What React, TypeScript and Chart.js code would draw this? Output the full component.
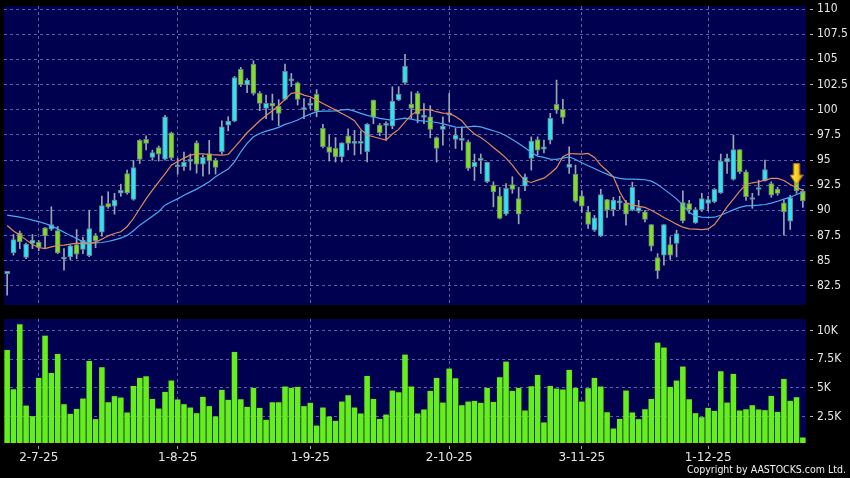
import React, { useEffect, useRef } from "react";
import { Chart, registerables } from "chart.js";
Chart.register(...registerables);

// ---- data ----
const opens = [83.72,85.78,87.77,85.32,86.71,86.84,88.26,88.13,88.0,85.15,85.38,86.6,86.11,85.5,87.5,87.83,90.68,90.42,91.7,93.66,91.08,96.95,97.06,95.26,96.23,95.08,97.71,94.33,94.33,94.86,96.71,94.6,95.65,94.99,95.82,98.47,98.87,104.0,102.45,104.53,101.62,100.13,100.62,100.36,101.02,102.87,102.68,100.0,100.43,101.52,98.14,96.32,96.15,95.32,97.41,96.65,96.65,95.82,100.96,98.47,98.44,98.37,100.96,102.68,100.56,101.62,99.23,99.3,97.24,98.04,99.46,97.04,96.95,96.81,94.33,94.96,92.84,92.51,91.41,89.62,92.57,91.18,92.41,95.16,97.04,96.08,96.98,100.53,100.03,94.26,93.6,91.45,89.85,88.03,87.44,91.08,90.08,90.75,90.75,90.02,89.92,89.85,88.6,85.32,85.55,86.61,86.71,90.78,90.68,88.76,90.08,90.68,90.85,91.74,94.82,93.07,96.05,93.83,91.08,92.07,92.94,92.67,92.11,90.75,88.93,93.5,91.91];
const highs = [83.95,87.6,87.95,86.75,87.6,87.0,88.3,90.35,88.4,86.2,86.55,88.1,87.35,90.02,87.7,91.41,91.85,91.7,92.6,94.0,94.96,97.04,97.4,95.98,96.4,99.45,97.78,95.16,95.8,95.6,96.9,95.5,96.95,95.16,98.9,99.3,103.3,104.2,103.1,104.86,101.8,101.45,101.55,101.0,104.53,103.6,102.75,101.1,101.1,102.0,98.55,97.45,97.24,96.71,98.1,97.95,97.9,98.62,100.96,98.63,98.8,102.28,102.28,105.5,101.78,101.8,100.6,100.4,97.3,99.3,101.62,98.14,98.3,96.98,95.6,95.6,94.8,92.84,92.28,92.67,93.34,92.28,93.6,97.3,97.3,96.98,99.63,102.94,101.02,96.32,94.5,91.95,90.4,89.5,92.1,91.1,91.3,91.4,91.0,92.8,91.0,90.0,88.6,85.7,88.6,87.37,88.03,91.94,91.0,90.28,91.7,91.4,92.18,95.6,95.6,97.48,96.05,94.0,91.7,93.0,95.0,92.84,92.3,91.0,91.5,93.6,92.1];
const lows = [81.57,85.55,86.2,85.2,86.2,86.0,86.2,88.0,85.7,84.06,85.1,85.2,85.7,85.4,86.3,87.44,90.2,89.62,91.4,91.6,91.0,94.66,96.0,94.98,94.9,94.99,94.99,93.6,93.97,94.0,93.7,93.4,93.6,93.6,95.6,97.9,98.8,102.3,101.7,101.45,99.9,99.1,98.97,98.4,100.95,102.3,100.46,99.1,100.1,99.3,96.2,94.9,94.8,94.8,96.0,95.5,95.6,94.8,98.6,97.4,96.98,98.1,100.9,102.5,99.13,98.7,98.6,97.2,94.8,96.48,98.8,96.15,95.98,93.98,92.97,93.66,92.74,90.35,89.15,89.5,91.7,88.66,91.95,94.0,95.5,95.7,96.6,99.63,98.64,93.66,90.8,89.8,88.2,87.9,87.4,89.3,89.45,90.1,88.53,89.95,89.75,88.85,85.98,83.23,84.55,85.12,85.38,88.76,89.7,88.7,89.9,90.0,90.75,91.68,93.66,93.0,93.66,91.0,90.2,91.5,92.9,91.3,91.5,87.54,88.1,91.7,90.3];
const closes = [83.95,87.1,86.87,86.64,87.04,86.31,87.47,88.6,85.78,85.31,86.47,85.65,87.04,88.2,86.97,90.48,90.35,91.01,92.0,91.74,94.26,95.07,96.65,95.73,95.59,99.3,95.2,94.5,94.76,94.99,94.6,95.26,94.92,94.26,98.3,98.87,103.2,102.45,102.94,101.62,100.62,100.62,100.35,99.63,103.8,102.94,101.02,100.06,100.62,99.86,96.32,95.75,95.32,96.71,96.65,96.68,96.68,98.57,99.23,97.71,98.6,100.86,101.55,104.33,100.13,99.56,99.46,98.04,96.15,98.37,99.69,97.48,96.98,94.16,94.76,94.99,94.76,91.84,89.19,92.18,92.08,89.62,93.34,96.88,95.98,96.32,99.13,99.96,99.23,94.6,90.92,90.42,88.6,89.26,91.58,90.02,91.01,90.78,89.62,92.28,90.28,89.09,86.44,83.99,88.6,85.55,87.7,88.96,90.08,90.08,91.18,91.08,92.08,94.89,95.16,96.05,93.83,91.35,91.11,92.1,94.06,91.51,91.68,89.85,91.28,91.94,90.95];
const maFast = [88.5,87.96,87.54,87.07,86.61,86.31,86.21,86.37,86.51,86.54,86.64,86.74,86.7,86.7,86.84,87.14,87.47,87.7,87.87,88.4,89.19,90.19,91.14,92.01,92.84,93.63,94.49,94.86,95.19,95.49,95.62,95.62,95.55,95.52,95.49,95.55,96.25,96.98,97.71,98.3,98.9,99.43,99.9,100.42,101.02,101.62,101.72,101.45,101.29,100.96,100.62,100.29,99.96,99.63,99.3,98.9,98.04,97.48,97.31,97.14,96.98,97.58,98.04,98.8,99.46,99.9,100.03,99.99,99.8,99.66,99.63,99.33,98.9,98.14,97.58,97.24,96.78,96.25,95.75,95.19,94.49,93.67,92.94,92.77,93.0,93.2,93.67,94.23,95.32,95.65,95.62,95.59,95.65,95.26,94.49,93.93,93.33,91.84,90.75,90.55,90.39,90.29,90.02,89.66,89.29,88.96,88.63,88.33,88.16,88.13,88.09,88.16,88.59,89.42,90.35,91.11,91.91,92.57,92.74,92.84,93.0,93.17,93.17,92.97,92.57,92.27,92.01];
const maSlow = [89.52,89.42,89.32,89.19,89.03,88.89,88.69,88.46,88.16,87.83,87.5,87.2,86.87,86.77,86.77,86.81,86.91,87.07,87.24,87.5,87.97,88.53,88.96,89.42,89.89,90.52,90.85,91.14,91.51,91.81,92.11,92.47,92.84,93.33,93.73,94.1,94.82,95.82,96.65,97.31,97.64,97.87,98.04,98.24,98.54,98.73,98.97,99.3,99.56,99.8,99.86,99.86,99.89,99.99,100.03,99.86,99.63,99.43,99.3,99.13,99.03,98.97,99.07,99.17,99.07,98.93,98.87,98.83,98.73,98.6,98.44,98.27,98.24,98.3,98.37,98.3,98.1,97.91,97.71,97.41,97.03,96.64,96.21,95.75,95.39,95.26,95.09,95.06,95.19,95.32,95.06,94.73,94.43,94.16,93.86,93.6,93.33,93.17,93.1,93.1,93.07,93.04,92.9,92.57,92.11,91.64,91.14,90.52,89.82,89.42,89.32,89.29,89.32,89.52,89.79,90.05,90.29,90.45,90.48,90.52,90.58,90.72,90.91,91.11,91.31,91.58,91.81];
const volumesK = [8.3,4.88,10.54,3.46,2.54,5.87,9.55,6.3,7.96,3.58,2.74,3.17,4.07,7.35,2.28,6.8,3.75,4.28,4.16,2.86,5.17,5.87,6.01,4.04,3.2,4.65,5.64,3.99,3.58,3.29,2.8,4.22,3.41,2.51,4.83,3.96,8.13,4.01,3.35,5.0,3.26,2.22,3.75,3.75,5.12,5.0,5.09,3.41,3.7,1.72,3.29,2.51,2.13,3.81,4.36,3.29,2.77,6.04,4.04,2.3,2.68,4.77,4.62,7.9,5.12,2.77,3.12,4.74,5.87,3.72,6.68,5.84,3.49,3.81,3.87,3.7,5.0,3.78,5.93,7.29,4.74,5.0,3.03,5.14,6.13,1.99,5.17,4.94,4.86,6.57,5.0,3.81,4.97,5.87,5.12,2.88,1.46,2.3,4.77,2.86,2.28,3.14,4.04,8.94,8.51,5.09,5.64,6.86,4.01,2.8,2.45,3.26,3.0,6.45,3.72,6.22,3.03,3.14,3.49,3.12,3.06,4.3,2.91,5.78,3.87,4.19,0.68];
const xTickIndex = [5, 27, 48, 70, 91, 111];
const xTickText = ["2-7-25", "1-8-25", "1-9-25", "2-10-25", "3-11-25", "1-12-25"];
const priceTicks = [82.5, 85, 87.5, 90, 92.5, 95, 97.5, 100, 102.5, 105, 107.5, 110];
const volumeTicks = [2.5, 5, 7.5, 10];
const markerIndex = 125;
const markerPrice = 93.6;
const copyright = "Copyright by AASTOCKS.com Ltd.";

// ---- styles ----
const PLOT_BG = "#000050";
const GRID = "rgba(130,130,185,0.75)";
const LABEL = "#e6e6e6";
const UP = "#30e2f2";
const DOWN = "#80e020";
const Y_FONT = { family: "'DejaVu Sans Condensed', 'DejaVu Sans', sans-serif", size: 12 };
const X_FONT = { family: "'DejaVu Sans', sans-serif", size: 12 };

const bgPlugin = {
  id: "plotBg",
  beforeDraw(chart: any) {
    const { ctx, chartArea: a } = chart;
    ctx.save();
    ctx.fillStyle = PLOT_BG;
    ctx.fillRect(a.left, a.top, a.right - a.left, a.bottom - a.top);
    ctx.restore();
  },
};

function makeArrow() {
  const c = document.createElement("canvas");
  c.width = 14;
  c.height = 22;
  const g = c.getContext("2d")!;
  const grad = g.createLinearGradient(0, 0, 14, 0);
  grad.addColorStop(0, "#fff27a");
  grad.addColorStop(0.5, "#ffd21e");
  grad.addColorStop(1, "#e59a00");
  g.fillStyle = grad;
  g.strokeStyle = "#b87800";
  g.lineWidth = 1;
  g.beginPath();
  g.moveTo(4, 0.5);
  g.lineTo(10, 0.5);
  g.lineTo(10, 12);
  g.lineTo(13.5, 12);
  g.lineTo(7, 21.5);
  g.lineTo(0.5, 12);
  g.lineTo(4, 12);
  g.closePath();
  g.fill();
  g.stroke();
  return c;
}

const labels = closes.map((_, i) => i);

const noPad = (s: any) => {
  s.paddingTop = 0;
  s.paddingBottom = 0;
  s.paddingLeft = 0;
  s.paddingRight = 0;
};

const xScale = (showLabels: boolean, height: number) => ({
  type: "category" as const,
  offset: true,
  afterBuildTicks: (s: any) => {
    s.ticks = xTickIndex.map((v) => ({ value: v }));
  },
  afterFit: (s: any) => {
    s.height = height;
    noPad(s);
  },
  grid: {
    offset: false,
    color: GRID,
    lineWidth: 1,
    borderDash: [3, 3],
    drawTicks: showLabels,
    tickLength: 6,
    tickColor: "#aaaaaa",
    tickBorderDash: [0, 3, 3, 10],
  },
  border: { display: false, dash: [3, 3] },
  ticks: {
    display: showLabels,
    autoSkip: false,
    maxRotation: 0,
    padding: 2,
    color: LABEL,
    font: X_FONT,
    callback: (v: any) => {
      const k = xTickIndex.indexOf(Number(v));
      return k >= 0 ? xTickText[k] : "";
    },
  },
});

const yGrid = {
  color: GRID,
  borderDash: [3, 3],
  tickLength: 8,
  tickColor: "#bbbbbb",
  tickBorderDash: [0, 4, 3, 1],
};

export default function App() {
  const priceRef = useRef<HTMLCanvasElement>(null);
  const volRef = useRef<HTMLCanvasElement>(null);

  useEffect(() => {
    const arrow = makeArrow();
    const markerData = labels.map((i) => (i === markerIndex ? markerPrice : null));
    const bodyColors = opens.map((o, i) => (closes[i] >= o ? UP : DOWN));

    const price = new Chart(priceRef.current!, {
      type: "bar",
      data: {
        labels,
        datasets: [
          {
            type: "line",
            data: markerData,
            showLine: false,
            pointStyle: arrow as any,
            pointRadius: 10,
            order: 0,
          } as any,
          {
            type: "line",
            data: maFast,
            borderColor: "#e2895c",
            borderWidth: 1.2,
            pointRadius: 0,
            tension: 0,
            order: 1,
          },
          {
            type: "line",
            data: maSlow,
            borderColor: "#4aaaf0",
            borderWidth: 1.2,
            pointRadius: 0,
            tension: 0,
            order: 1,
          },
          {
            type: "bar",
            data: opens.map((o, i) => [o, closes[i]]) as any,
            backgroundColor: bodyColors,
            borderColor: "#6d7d8a",
            borderWidth: 1,
            borderSkipped: false,
            barThickness: 5,
            minBarLength: 2,
            grouped: false,
            order: 2,
          },
          {
            type: "bar",
            data: lows.map((l, i) => [l, highs[i]]) as any,
            backgroundColor: "#9aa6b2",
            barThickness: 1,
            grouped: false,
            order: 3,
          },
        ],
      },
      options: {
        responsive: false,
        animation: false,
        events: [],
        layout: { autoPadding: false, padding: { left: 4, right: 0, top: 6, bottom: 0 } },
        plugins: { legend: { display: false }, tooltip: { enabled: false } },
        scales: {
          x: xScale(false, 0) as any,
          y: {
            type: "linear",
            position: "right",
            min: 80.6,
            max: 110.3,
            afterBuildTicks: (s: any) => {
              s.ticks = priceTicks.map((v) => ({ value: v }));
            },
            afterFit: (s: any) => {
              s.width = 44;
              noPad(s);
            },
            grid: yGrid as any,
            border: { display: false, dash: [3, 3] },
            ticks: { color: LABEL, font: Y_FONT, padding: 3, callback: (v: any) => String(v) },
          },
        },
      },
      plugins: [bgPlugin],
    });

    const volume = new Chart(volRef.current!, {
      type: "bar",
      data: {
        labels,
        datasets: [
          {
            data: volumesK,
            backgroundColor: "#66ee1c",
            borderWidth: 0,
            barPercentage: 0.88,
            categoryPercentage: 1,
          },
        ],
      },
      options: {
        responsive: false,
        animation: false,
        events: [],
        layout: { autoPadding: false, padding: { left: 4, right: 0, top: 9, bottom: 0 } },
        plugins: { legend: { display: false }, tooltip: { enabled: false } },
        scales: {
          x: xScale(true, 35) as any,
          y: {
            type: "linear",
            position: "right",
            min: 0.2,
            max: 11.0,
            afterBuildTicks: (s: any) => {
              s.ticks = volumeTicks.map((v) => ({ value: v }));
            },
            afterFit: (s: any) => {
              s.width = 44;
              noPad(s);
            },
            grid: yGrid as any,
            border: { display: false, dash: [3, 3] },
            ticks: { color: LABEL, font: Y_FONT, padding: 3, callback: (v: any) => v + "K" },
          },
        },
      },
      plugins: [bgPlugin],
    });

    return () => {
      price.destroy();
      volume.destroy();
    };
  }, []);

  return (
    <div
      style={{
        position: "fixed",
        left: 0,
        top: 0,
        width: 850,
        height: 478,
        background: "#000",
        overflow: "hidden",
      }}
    >
      <canvas ref={priceRef} width={850} height={305} style={{ position: "absolute", left: 0, top: 0 }} />
      <canvas ref={volRef} width={850} height={168} style={{ position: "absolute", left: 0, top: 310 }} />
      <div
        style={{
          position: "absolute",
          right: 4,
          top: 463,
          color: "#f0f0f0",
          fontFamily: "'DejaVu Sans Condensed', 'DejaVu Sans', sans-serif",
          fontSize: 10.5,
          lineHeight: "13px",
          whiteSpace: "nowrap",
        }}
      >
        {copyright}
      </div>
    </div>
  );
}
